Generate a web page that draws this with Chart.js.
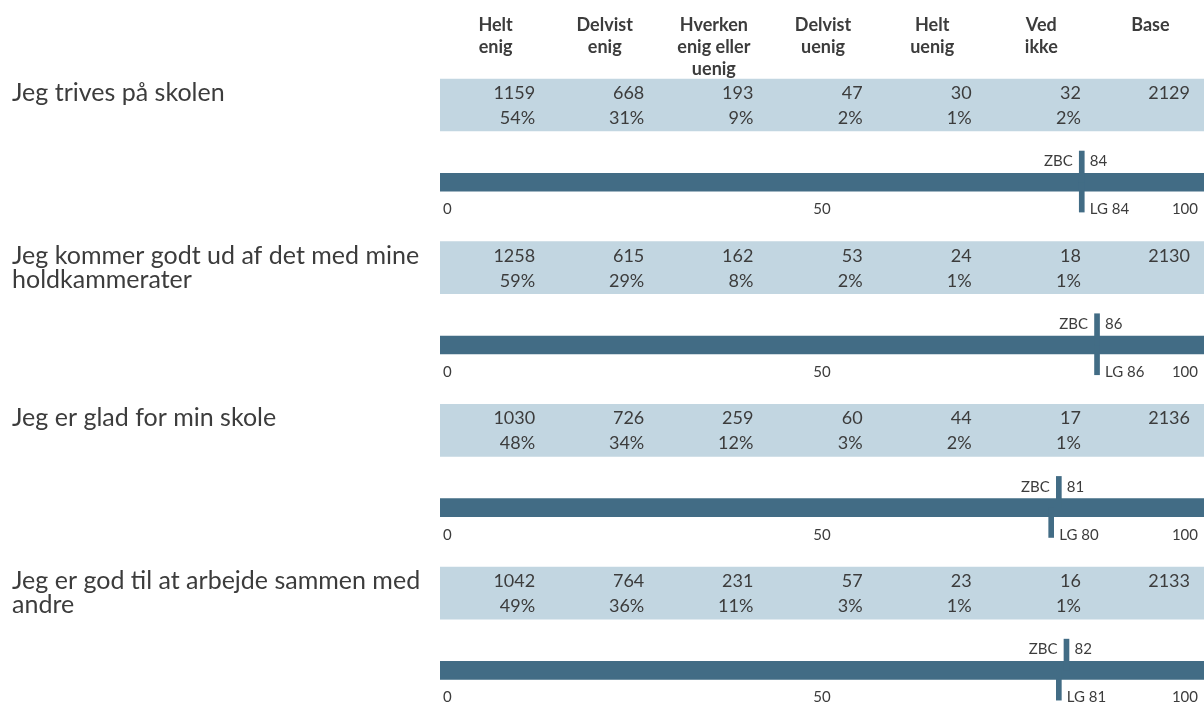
<!DOCTYPE html>
<html>
<head>
<meta charset="utf-8">
<script src="https://cdn.jsdelivr.net/npm/chart.js@4/dist/chart.umd.min.js"></script>
<style>
html,body{margin:0;padding:0;background:#fff;}
#wrap{width:1204px;height:704px;position:relative;}
</style>
</head>
<body>
<div id="wrap"><canvas id="c" width="1204" height="704"></canvas></div>
<script>
// ---------- DATA ----------
const questions = [
  "Jeg trives på skolen",
  "Jeg kommer godt ud af det med mine\nholdkammerater",
  "Jeg er glad for min skole",
  "Jeg er god til at arbejde sammen med\nandre"
];
const columnHeaders = ["Helt\nenig", "Delvist\nenig", "Hverken\nenig eller\nuenig", "Delvist\nuenig", "Helt\nuenig", "Ved\nikke", "Base"];

const nHeltEnig     = [1159, 1258, 1030, 1042];
const nDelvistEnig  = [668, 615, 726, 764];
const nHverken      = [193, 162, 259, 231];
const nDelvistUenig = [47, 53, 60, 57];
const nHeltUenig    = [30, 24, 44, 23];
const nVedIkke      = [32, 18, 17, 16];
const nBase         = [2129, 2130, 2136, 2133];

const pHeltEnig     = [54, 59, 48, 49];
const pDelvistEnig  = [31, 29, 34, 36];
const pHverken      = [9, 8, 12, 11];
const pDelvistUenig = [2, 2, 3, 3];
const pHeltUenig    = [1, 1, 2, 1];
const pVedIkke      = [2, 1, 1, 1];

const zbcScores = [84, 86, 81, 82];
const lgScores  = [84, 86, 80, 81];
const zbcName = "ZBC";
const lgName = "LG";
const scaleTicks = [0, 50, 100];

const countColumns = [nHeltEnig, nDelvistEnig, nHverken, nDelvistUenig, nHeltUenig, nVedIkke, nBase];
const pctColumns   = [pHeltEnig, pDelvistEnig, pHverken, pDelvistUenig, pHeltUenig, pVedIkke];

// ---------- LAYOUT / STYLE ----------
const FONT = "Lato, 'Open Sans', sans-serif";
const TEXT = "#3c3c3c";
const DARK = "#426c85";
const LIGHT = "#c2d6e1";
const L = {
  plotLeft: 440,
  yMin: -0.6454, yMax: 3.6817,
  barOffset: 0.475, zbcTop: 0.283, lgBottom: 0.658,
  bandPx: 52, barPx: 18, markerPx: 5,
  headerY: 25, headerLH: 22,
  numDy: -12, pctDy: 13, labelX: 12, labelLH: 24, cellPad: 14,
  zbcDy: -21, lgDy: 27
};
const F = { label: 25, num: 18, header: 18, small: 15 };

// ---------- DATASETS ----------
const datasets = [];
questions.forEach((q, i) => {
  datasets.push({
    type: 'bar', indexAxis: 'x', grouped: false,
    data: [{ x: zbcScores[i], y: [i + L.zbcTop, i + L.barOffset] }],
    backgroundColor: DARK, barThickness: L.markerPx, borderWidth: 0
  });
  datasets.push({
    type: 'bar', indexAxis: 'x', grouped: false,
    data: [{ x: lgScores[i], y: [i + L.barOffset, i + L.lgBottom] }],
    backgroundColor: DARK, barThickness: L.markerPx, borderWidth: 0
  });
});
datasets.push({
  type: 'bar', indexAxis: 'y', grouped: false,
  data: questions.map((q, i) => ({ y: i + L.barOffset, x: [scaleTicks[0], scaleTicks[scaleTicks.length - 1]] })),
  backgroundColor: DARK, barThickness: L.barPx, borderWidth: 0
});
datasets.push({
  type: 'bar', indexAxis: 'y', grouped: false,
  data: questions.map((q, i) => ({ y: i, x: [scaleTicks[0], scaleTicks[scaleTicks.length - 1]] })),
  backgroundColor: LIGHT, barThickness: L.bandPx, borderWidth: 0
});

// ---------- TEXT PLUGIN ----------
const tableText = {
  id: 'tableText',
  afterDatasetsDraw(chart) {
    const { ctx } = chart;
    const x = chart.scales.x, y = chart.scales.y;
    const left = x.left, right = x.right;
    const colW = (right - left) / columnHeaders.length;
    ctx.save();
    ctx.fillStyle = TEXT;
    ctx.textBaseline = 'middle';
    ctx.font = `bold ${F.header}px ${FONT}`;
    ctx.textAlign = 'center';
    columnHeaders.forEach((h, c) => {
      h.split('\n').forEach((line, k) => {
        ctx.fillText(line, left + (c + 0.5) * colW + 1, L.headerY + k * L.headerLH);
      });
    });
    questions.forEach((q, i) => {
      const yc = y.getPixelForValue(i);
      ctx.font = `${F.label}px ${FONT}`;
      ctx.textAlign = 'left';
      q.split('\n').forEach((line, k) => ctx.fillText(line, L.labelX, yc + L.numDy + k * L.labelLH));
      ctx.font = `${F.num}px ${FONT}`;
      ctx.textAlign = 'right';
      countColumns.forEach((col, c) => {
        ctx.fillText(String(col[i]), left + (c + 1) * colW - L.cellPad, yc + L.numDy);
      });
      pctColumns.forEach((col, c) => {
        ctx.fillText(col[i] + '%', left + (c + 1) * colW - L.cellPad, yc + L.pctDy);
      });
      const yb = y.getPixelForValue(i + L.barOffset);
      ctx.font = `${F.small}px ${FONT}`;
      const xz = x.getPixelForValue(zbcScores[i]);
      ctx.textAlign = 'right';
      ctx.fillText(zbcName, xz - 9, yb + L.zbcDy);
      ctx.textAlign = 'left';
      ctx.fillText(String(zbcScores[i]), xz + 8, yb + L.zbcDy);
      const xl = x.getPixelForValue(lgScores[i]);
      ctx.fillText(lgName + ' ' + lgScores[i], xl + 8, yb + L.lgDy);
      scaleTicks.forEach((t, k) => {
        const px = x.getPixelForValue(t);
        if (k === 0) { ctx.textAlign = 'left'; ctx.fillText(String(t), px + 3, yb + L.lgDy); }
        else if (k === scaleTicks.length - 1) { ctx.textAlign = 'right'; ctx.fillText(String(t), px - 6, yb + L.lgDy); }
        else { ctx.textAlign = 'center'; ctx.fillText(String(t), px, yb + L.lgDy); }
      });
    });
    ctx.restore();
  }
};

new Chart(document.getElementById('c'), {
  type: 'bar',
  data: { datasets },
  options: {
    responsive: false,
    animation: false,
    devicePixelRatio: 1,
    layout: { padding: { left: L.plotLeft, right: 0, top: 0, bottom: 0 } },
    scales: {
      x: { type: 'linear', min: scaleTicks[0], max: scaleTicks[scaleTicks.length - 1], display: false, offset: false },
      y: { type: 'linear', min: L.yMin, max: L.yMax, reverse: true, display: false, offset: false }
    },
    plugins: { legend: { display: false }, tooltip: { enabled: false } }
  },
  plugins: [tableText]
});
</script>
</body>
</html>
